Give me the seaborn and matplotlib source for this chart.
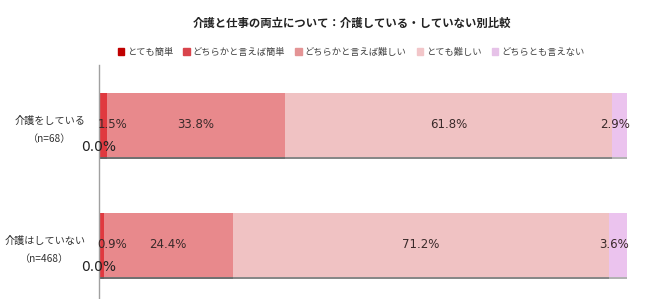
import matplotlib
matplotlib.use("Agg")
import matplotlib.pyplot as plt
import matplotlib.patheffects as pe
import seaborn as sns
import pandas as pd
import numpy as np

sns.set_theme(style="white")
plt.rcParams['font.family'] = ['Noto Sans CJK JP', 'DejaVu Sans']

title = "介護と仕事の両立について：介護している・していない別比較"
groups = ["介護をしている\n（n=68）", "介護はしていない\n（n=468）"]
categories = ["とても簡単", "どちらかと言えば簡単", "どちらかと言えば難しい", "とても難しい", "どちらとも言えない"]
caring = [0.0, 1.5, 33.8, 61.8, 2.9]
not_caring = [0.0, 0.9, 24.4, 71.2, 3.6]
bar_colors = ["#c00000", "#e0393f", "#e8898c", "#f0c2c3", "#ebc3ee"]
legend_colors = ["#c00000", "#d9444c", "#e49495", "#f2c6c9", "#e6c2e8"]

values = np.array([caring, not_caring])
cum = np.cumsum(values, axis=1)

fig = plt.figure(figsize=(6.45, 2.99), dpi=100)
ax = fig.add_axes([99/645, 0.0, (627-99)/645, (299-65)/299])

shadow = [pe.SimplePatchShadow(offset=(0, -1.4), shadow_rgbFace="#555555", alpha=0.45), pe.Normal()]

for k in range(len(categories) - 1, -1, -1):
    df = pd.DataFrame({"group": groups, "value": cum[:, k]})
    sns.barplot(data=df, x="value", y="group", orient="h", color=bar_colors[k],
                width=0.54, ax=ax, saturation=1, linewidth=0)

for p in ax.patches:
    p.set_path_effects(shadow)

ax.set_xlim(0, 100)
ax.set_ylim(1.45, -0.5)
ax.set_xlabel("")
ax.set_ylabel("")
ax.set_xticks([])
for s in ["top", "right", "bottom"]:
    ax.spines[s].set_visible(False)
ax.spines["left"].set_color("#a0a0a0")
ax.spines["left"].set_linewidth(1)
ax.tick_params(axis="y", length=0, pad=10)
for t in ax.get_yticklabels():
    t.set_fontsize(7.3)
    t.set_multialignment("center")
    t.set_color("#333333")
    t.set_linespacing(2.0)

# value labels
for i in range(len(groups)):
    start = 0.0
    for k, v in enumerate(values[i]):
        if v == 0:
            ax.text(start, i + 0.18, f"{v:.1f}%", ha="center", va="center",
                    fontsize=10, color="#222222", family="DejaVu Sans")
        elif v < 2:
            ax.text(start - 0.3, i, f"{v:.1f}%", ha="left", va="center",
                    fontsize=8.5, color="#3a2a2a", family="DejaVu Sans")
        else:
            ax.text(start + v / 2 - (0.8 if v < 5 else 0), i, f"{v:.1f}%", ha="center", va="center",
                    fontsize=8.5, color="#3a2a2a", family="DejaVu Sans")
        start += v

fig.text(352/645, 1 - 23/299, title, ha="center", va="center", fontsize=8.2,
         fontweight="bold", color="#222222")

handles = [plt.Rectangle((0, 0), 1, 1, color=c) for c in legend_colors]
fig.legend(handles, categories, loc="center", bbox_to_anchor=(351/645, 1 - 52/299),
           ncol=5, frameon=False, fontsize=6.7, handlelength=0.7, handleheight=0.7,
           handletextpad=0.3, columnspacing=1.1, labelcolor="#444444")

fig.savefig("out.png", dpi=100, facecolor="white")
